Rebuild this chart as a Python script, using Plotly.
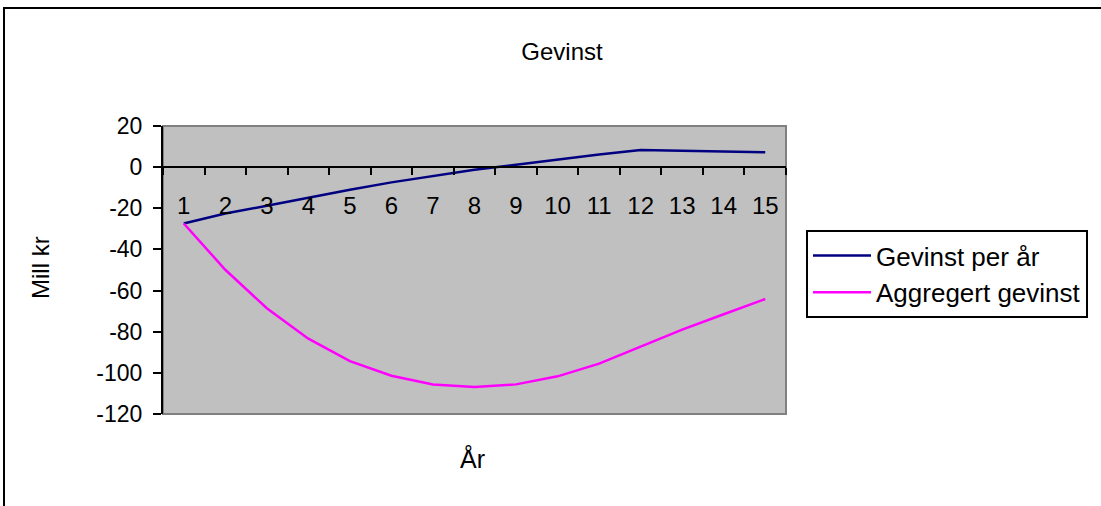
import plotly.graph_objects as go

years = [str(i) for i in range(1, 16)]
gevinst_per_aar = [-27.4, -22.5, -18.8, -14.8, -11.0, -7.4, -4.4, -1.3, 1.2, 3.8, 6.2, 8.3, 8.0, 7.6, 7.2]
aggregert = [-27.4, -49.9, -68.6, -83.4, -94.3, -101.4, -105.7, -106.9, -105.6, -101.7, -95.5, -87.3, -79.0, -71.5, -64.1]
ytick_vals = [20, 0, -20, -40, -60, -80, -100, -120]
ytick_text = ["20", "0", "-20", "-40", "-60", "-80", "-100", "-120"]

FONT = "Liberation Sans, Arial, sans-serif"
W, H = 1101, 506
L, R, T, B = 163, 786, 126, 414

fig = go.Figure()
fig.add_trace(go.Scatter(x=years, y=gevinst_per_aar, mode="lines", name="Gevinst per år",
                         line=dict(color="#000080", width=2.5)))
fig.add_trace(go.Scatter(x=years, y=aggregert, mode="lines", name="Aggregert gevinst",
                         line=dict(color="#FF00FF", width=2.5)))

ymin, ymax = -120, 20
zero_pos = (0 - ymin) / (ymax - ymin)

def px_x(p):
    return (p - L) / (R - L)

def px_y(p):
    return (B - p) / (B - T)

fig.update_layout(
    width=W, height=H,
    margin=dict(l=L, r=W - R, t=T, b=H - B),
    paper_bgcolor="white",
    plot_bgcolor="#C0C0C0",
    font=dict(family=FONT, color="black"),
    title=dict(text="Gevinst", x=562 / W, xref="container", xanchor="center",
               y=1 - 52 / H, yref="container", yanchor="middle",
               font=dict(size=24, family=FONT, color="black")),
    xaxis=dict(type="category", anchor="free", position=zero_pos,
               showline=True, linecolor="black", linewidth=2,
               ticks="outside", ticklen=7, tickwidth=2, tickcolor="black",
               tickson="boundaries", showgrid=False, zeroline=False,
               tickfont=dict(size=24, family=FONT, color="black"),
               ticklabelstandoff=17, range=[-0.5, 14.5]),
    yaxis=dict(range=[ymin, ymax], tickvals=ytick_vals, ticktext=ytick_text,
               showline=True, linecolor="black", linewidth=2,
               ticks="outside", ticklen=8, tickwidth=2, tickcolor="black",
               showgrid=False, zeroline=False,
               tickfont=dict(size=23, family=FONT, color="black"),
               ticklabelstandoff=6),
    showlegend=True,
    legend=dict(x=px_x(806), y=px_y(230), xanchor="left", yanchor="top",
                bordercolor="black", borderwidth=2, bgcolor="white",
                font=dict(size=26, family=FONT, color="black"),
                itemwidth=58, tracegroupgap=0),
)

# plot-area border (grey) and outer chart frame (black)
fig.add_shape(type="rect", xref="paper", yref="paper", x0=0, x1=1, y0=0, y1=1,
              line=dict(color="#808080", width=2), layer="below")
fig.add_shape(type="rect", xref="paper", yref="paper",
              x0=px_x(4), x1=px_x(1110), y0=px_y(515), y1=px_y(8),
              line=dict(color="black", width=2), fillcolor="rgba(0,0,0,0)")

fig.add_annotation(text="År", xref="paper", yref="paper", x=px_x(472), y=px_y(458),
                   showarrow=False, font=dict(size=25, family=FONT, color="black"),
                   xanchor="center", yanchor="middle")
fig.add_annotation(text="Mill kr", xref="paper", yref="paper", x=px_x(40), y=px_y(268),
                   showarrow=False, textangle=-90,
                   font=dict(size=24, family=FONT, color="black"),
                   xanchor="center", yanchor="middle")

fig.write_html("out.html")
